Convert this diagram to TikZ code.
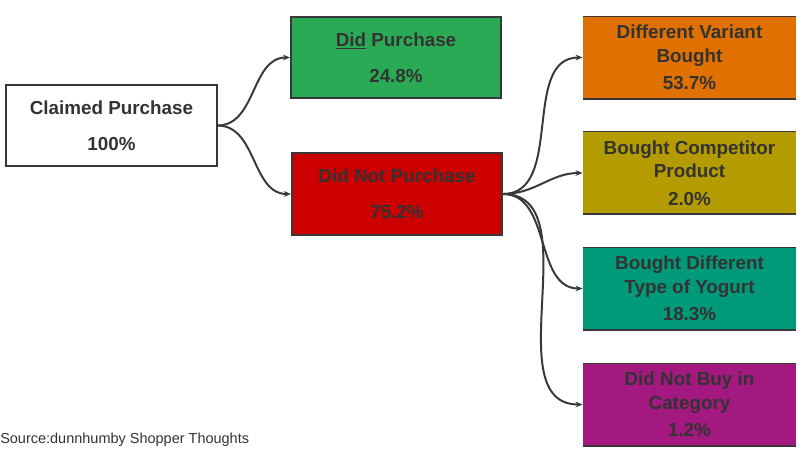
\documentclass[tikz,border=0pt]{standalone}
\usepackage{fontspec}
\setmainfont{Liberation Sans}
\usepackage{tikz}
\usetikzlibrary{arrows.meta,positioning}
\definecolor{textgray}{HTML}{333333}
\definecolor{linegray}{HTML}{383838}
\definecolor{boxgreen}{HTML}{2AAA55}
\definecolor{boxred}{HTML}{CC0000}
\definecolor{boxorange}{HTML}{E07000}
\definecolor{boxolive}{HTML}{B39B00}
\definecolor{boxteal}{HTML}{009A7A}
\definecolor{boxpurple}{HTML}{A3197F}

\begin{document}
\begin{tikzpicture}[x=0.025cm,y=-0.025cm,
    box/.style={draw=linegray,line width=1.4pt,minimum width=5.25cm,minimum height=2.03cm,
        align=center,text=textgray,font=\fontsize{13.4}{16.5}\selectfont\bfseries},
    result/.style={minimum width=5.33cm,minimum height=2.05cm,inner sep=0pt,
        align=center,text=textgray,font=\fontsize{13.4}{16.5}\selectfont\bfseries},
    conn/.style={draw=linegray,line width=1.4pt,-{Stealth[length=5pt,width=4pt]}}]
    \useasboundingbox (0,0) rectangle (804,454);

    % first split
    \node[box,fill=white] (claim) at (111.5,125.5) {Claimed Purchase\\[9pt]100\%};
    \node[box,fill=boxgreen] (did) at (396,57.5) {\underline{Did} Purchase\\[9pt]24.8\%};
    \node[box,fill=boxred] (didnot) at (397,194) {Did Not Purchase\\[9pt]75.2\%};

    % what happened instead
    \node[result,fill=boxorange] (variant) at (689.5,57.5) {Different Variant\\Bought\\[3pt]53.7\%};
    \node[result,fill=boxolive] (competitor) at (689.5,173) {Bought Competitor\\Product\\[3pt]2.0\%};
    \node[result,fill=boxteal] (yogurt) at (689.5,288.5) {Bought Different\\Type of Yogurt\\[3pt]18.3\%};
    \node[result,fill=boxpurple] (nobuy) at (689.5,404.5) {Did Not Buy in\\Category\\[3pt]1.2\%};
    \foreach \n in {variant,competitor,yogurt,nobuy}{
        \draw[linegray,line width=0.5pt] (\n.north west) -- (\n.north east);
        \draw[linegray,line width=1.2pt] (\n.south west) -- (\n.south east);
    }

    \draw[conn] (claim.east) to[out=0,in=180] (did.west);
    \draw[conn] (claim.east) to[out=0,in=180] (didnot.west);
    \foreach \n in {variant,competitor,yogurt,nobuy}
        \draw[conn] (didnot.east) to[out=0,in=180] (\n.west);

    \node[anchor=west,inner sep=0pt,text=textgray,font=\fontsize{10.3}{12}\selectfont]
        (source) at (0,440) {Source:dunnhumby Shopper Thoughts};
\end{tikzpicture}
\end{document}
